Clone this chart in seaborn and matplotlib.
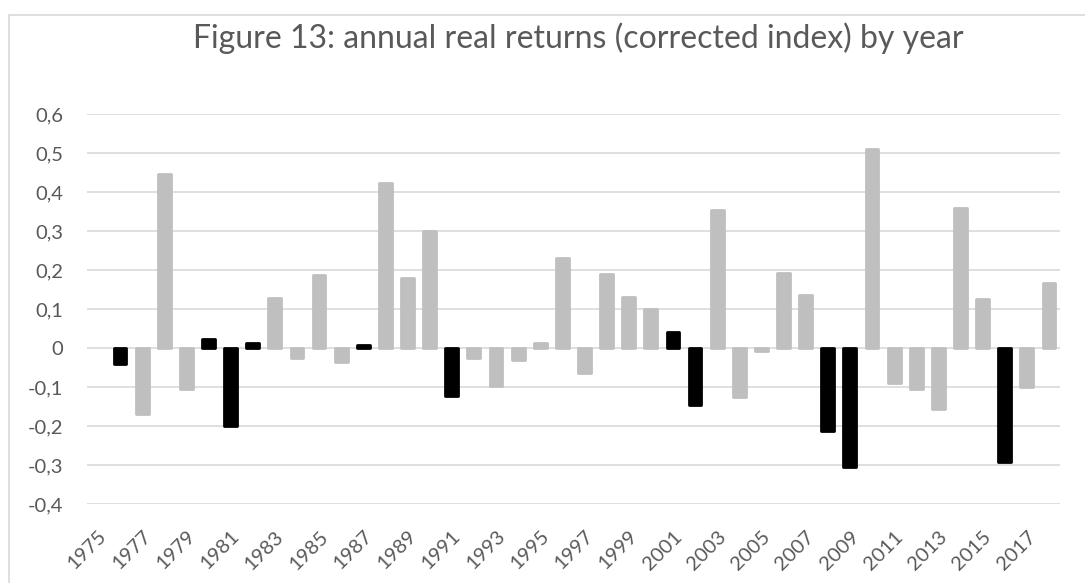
import pandas as pd
import matplotlib.pyplot as plt
import matplotlib.patches as mpatches
import seaborn as sns

# annual real returns (corrected index), 1975 has no value
years = list(range(1975, 2019))
returns = [
    None, -0.040, -0.170, 0.445, -0.105, 0.022, -0.200, 0.013, 0.128, -0.026,
    0.187, -0.035, 0.008, 0.423, 0.180, 0.300, -0.122, -0.025, -0.098, -0.030,
    0.012, 0.230, -0.064, 0.190, 0.130, 0.100, 0.040, -0.145, 0.353, -0.125,
    -0.008, 0.193, 0.137, -0.212, -0.305, 0.510, -0.090, -0.105, -0.157, 0.358,
    0.125, -0.292, -0.100, 0.167,
]
# years drawn in black
black_years = [1976, 1980, 1981, 1982, 1987, 1991, 2001, 2002, 2008, 2009, 2016]
yticks = [-0.4, -0.3, -0.2, -0.1, 0, 0.1, 0.2, 0.3, 0.4, 0.5, 0.6]

df = pd.DataFrame({
    "year": [str(y) for y in years],
    "ret": returns,
    "group": ["black" if y in black_years else "grey" for y in years],
})

sns.set_style("white")
plt.rcParams["font.family"] = ["Lato", "DejaVu Sans"]

fig = plt.figure(figsize=(10.85, 5.83), dpi=100)
ax = fig.add_axes([0.080, 0.1355, 0.897, 0.669])

sns.barplot(data=df, x="year", y="ret", hue="group", order=df["year"],
            hue_order=["grey", "black"], dodge=False, width=0.58,
            palette={"grey": "#BFBFBF", "black": "#000000"}, legend=False,
            ax=ax, zorder=3)

# rounded bar ends like the original
for p in ax.patches:
    p.set_edgecolor(p.get_facecolor())
    p.set_linewidth(2)
    p.set_joinstyle("round")

ax.set_ylim(-0.4, 0.6)
ax.set_yticks(yticks)
ax.set_yticklabels([("%.1f" % v).replace(".", ",") if v != 0 else "0" for v in yticks])
ax.set_xlim(-0.5, len(years) - 0.5)
ax.set_xticks(range(0, len(years), 2))
ax.set_xticklabels([str(y) for y in years[::2]], rotation=45, ha="right",
                   rotation_mode="anchor")
ax.set_xlabel("")
ax.set_ylabel("")
ax.grid(True, axis="y", color="#D9D9D9", linewidth=1.2, zorder=0)
ax.set_axisbelow(True)
for s in ax.spines.values():
    s.set_visible(False)
ax.tick_params(axis="y", length=0, pad=17, labelsize=14.5, labelcolor="#595959")
ax.tick_params(axis="x", length=0, pad=17, labelsize=14.5, labelcolor="#595959")

fig.text(0.533, 0.935, "Figure 13: annual real returns (corrected index) by year",
         ha="center", va="center", fontsize=23, color="#595959")

fig.patches.append(mpatches.Rectangle((9 / 1085, -0.02), 1.05, 1 - 15 / 583 + 0.02,
                                      transform=fig.transFigure, fill=False,
                                      edgecolor="#D9D9D9", linewidth=1.2))

fig.savefig("out.png", dpi=100)
